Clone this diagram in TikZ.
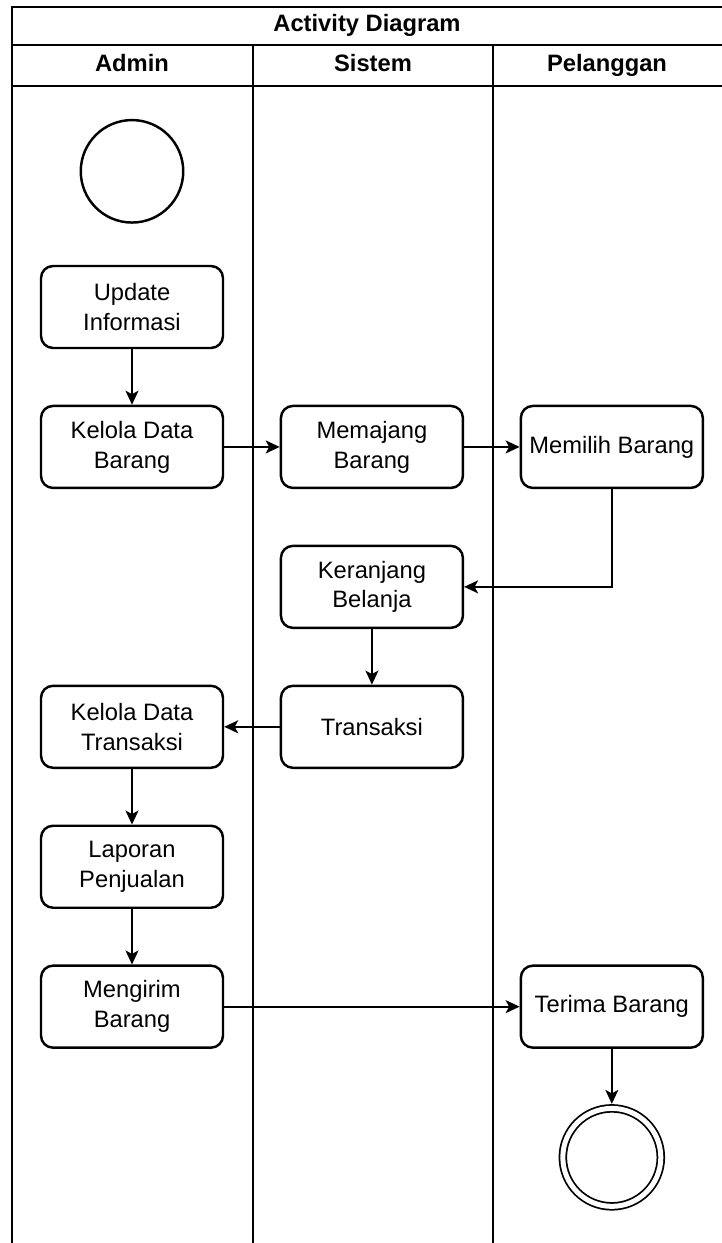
\documentclass[tikz,border=0pt]{standalone}
\usepackage{fontspec}
\setmainfont{Liberation Sans}
\usepackage{tikz}
\usetikzlibrary{arrows.meta,positioning}

\begin{document}
\begin{tikzpicture}[x=0.02cm, y=-0.02cm, font=\fontsize{13.5}{17}\selectfont,
  node distance=1.11cm,
  act/.style={draw, line width=1.4pt, rounded corners=0.24cm, minimum width=3.64cm, minimum height=1.64cm, align=center, inner sep=2pt},
  lane/.style={line width=1pt},
  hdr/.style={font=\fontsize{13.5}{16}\selectfont\bfseries, text height=1.6ex, text depth=.4ex},
  arr/.style={-{Stealth[length=2.8mm, width=2.6mm, inset=0.7mm]}, line width=1pt}]
  \useasboundingbox (0,0) rectangle (722,1243);
  % swimlane frame
  \draw[lane] (12,1243) -- (12,7) -- (722,7);
  \draw[lane] (12,45) -- (722,45);
  \draw[lane] (12,86) -- (722,86);
  \draw[lane] (253,45) -- (253,1243);
  \draw[lane] (493,45) -- (493,1243);
  \node[hdr] (title) at (367,26) {Activity Diagram};
  \node[hdr] (admin) at (132,66) {Admin};
  \node[hdr] (sistem) at (373,66) {Sistem};
  \node[hdr] (pelanggan) at (607,66) {Pelanggan};
  % activities
  \node[act] (update) at (132,307) {Update\\Informasi};
  \node[draw, circle, line width=1.4pt, minimum size=2.05cm, above=0.82cm of update] (start) {};
  \node[act, below=of update] (kelolabrg) {Kelola Data\\Barang};
  \node[act, right=of kelolabrg] (memajang) {Memajang\\Barang};
  \node[act, right=of memajang] (memilih) {Memilih Barang};
  \node[act, below=of memajang] (keranjang) {Keranjang\\Belanja};
  \node[act, below=of keranjang] (transaksi) {Transaksi};
  \node[act, left=of transaksi] (kelolatrx) {Kelola Data\\Transaksi};
  \node[act, below=of kelolatrx] (laporan) {Laporan\\Penjualan};
  \node[act, below=of laporan] (kirim) {Mengirim\\Barang};
  \node[act] (terima) at (memilih |- kirim) {Terima Barang};
  \node[draw, circle, double, line width=1pt, double distance=0.1cm, minimum size=1.96cm, outer sep=0.09cm, below=1.1cm of terima] (end) {};
  % flows
  \draw[arr] (update) -- (kelolabrg);
  \draw[arr] (kelolabrg) -- (memajang);
  \draw[arr] (memajang) -- (memilih);
  \draw[arr] (memilih.south) |- (keranjang.east);
  \draw[arr] (keranjang) -- (transaksi);
  \draw[arr] (transaksi) -- (kelolatrx);
  \draw[arr] (kelolatrx) -- (laporan);
  \draw[arr] (laporan) -- (kirim);
  \draw[arr] (kirim) -- (terima);
  \draw[arr] (terima) -- (end);
\end{tikzpicture}
\end{document}
